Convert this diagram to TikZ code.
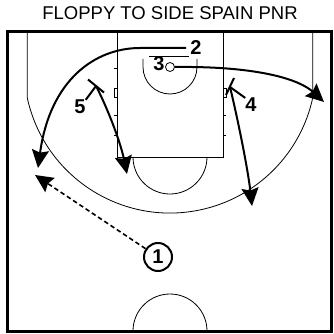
\documentclass[tikz,border=0pt]{standalone}
\usepackage{fontspec}
\setmainfont{Liberation Sans}
\usetikzlibrary{arrows.meta}
\begin{document}
\begin{tikzpicture}[x=1pt,y=-1pt,
  court/.style={line width=0.8pt},
  border/.style={line width=3pt},
  move/.style={line width=2pt,-{Stealth[length=18pt 0 0,width=17pt 0,inset=2.5pt 0]}},
  pass/.style={move,line width=1.6pt,dash pattern=on 4.5pt off 3pt},
  screenbar/.style={line width=2pt},
  num/.style={font=\fontsize{20}{20}\selectfont\bfseries,inner sep=0pt},
  player/.style={num,circle,draw,line width=2pt,minimum size=28pt}]
\useasboundingbox (0,0) rectangle (333,334);
% title
\node[font=\fontsize{18.5}{18.5}\selectfont,anchor=base] (title) at (170,20) {FLOPPY TO SIDE SPAIN PNR};
% court
\draw[border] (7.5,31.5) rectangle (331.5,331.5);
\draw[court] (27.2,31) -- (27.2,97.4) arc[start angle=168,end angle=12,radius=146] -- (312.8,31);
\draw[court] (117,31) rectangle (223,157);
\draw[court] (133,157) arc[start angle=180,end angle=0,radius=37];
\draw[court] (143,59) -- (143,67) arc[start angle=180,end angle=0,radius=27] -- (197,59);
\draw[court] (149,56) -- (189,56);
\draw[court] (133,331) arc[start angle=180,end angle=360,radius=37];
\foreach \y in {68,115,135} {
  \draw[court] (117,\y) -- (114,\y);
  \draw[court] (223,\y) -- (226,\y);
}
\draw[court] (114,88) rectangle (117,97);
\draw[court] (223,88) rectangle (226,97);
\node[circle,draw,court,minimum size=9pt,inner sep=0pt,fill=white] (rim) at (170,67) {};
% players
\node[num] (p2) at (196,48) {2};
\node[num] (p3) at (159,64) {3};
\node[num] (p5) at (80,107) {5};
\node[num] (p4) at (251,105) {4};
\node[player] (p1) at (158,257) {1};
% coordinates
\coordinate (s2) at (186,48);
\coordinate (t2) at (38,168);
\coordinate (t3) at (324,102);
\coordinate (sc5) at (96,86);
\coordinate (b5a) at (88,79.5);
\coordinate (b5b) at (104,92.5);
\coordinate (t5) at (127,174);
\coordinate (sc4) at (230,87);
\coordinate (b4a) at (234,78);
\coordinate (b4b) at (226,95);
\coordinate (t4) at (252,206);
\coordinate (t1) at (35,175);
% movements
\draw[move] (s2) -- (140,48) .. controls (95,48) and (50,80) .. (t2);
\draw[move] (rim.east) .. controls (260,66) and (300,80) .. (t3);
\draw[screenbar] (p5.north east) -- (sc5);
\draw[screenbar] (b5a) -- (b5b);
\draw[move] (sc5) .. controls (106,105) and (120,140) .. (t5);
\draw[screenbar] (p4.north west) -- (sc4);
\draw[screenbar] (b4a) -- (b4b);
\draw[move] (sc4) .. controls (238,120) and (248,170) .. (t4);
\draw[pass] (p1) -- (t1);
\end{tikzpicture}
\end{document}
